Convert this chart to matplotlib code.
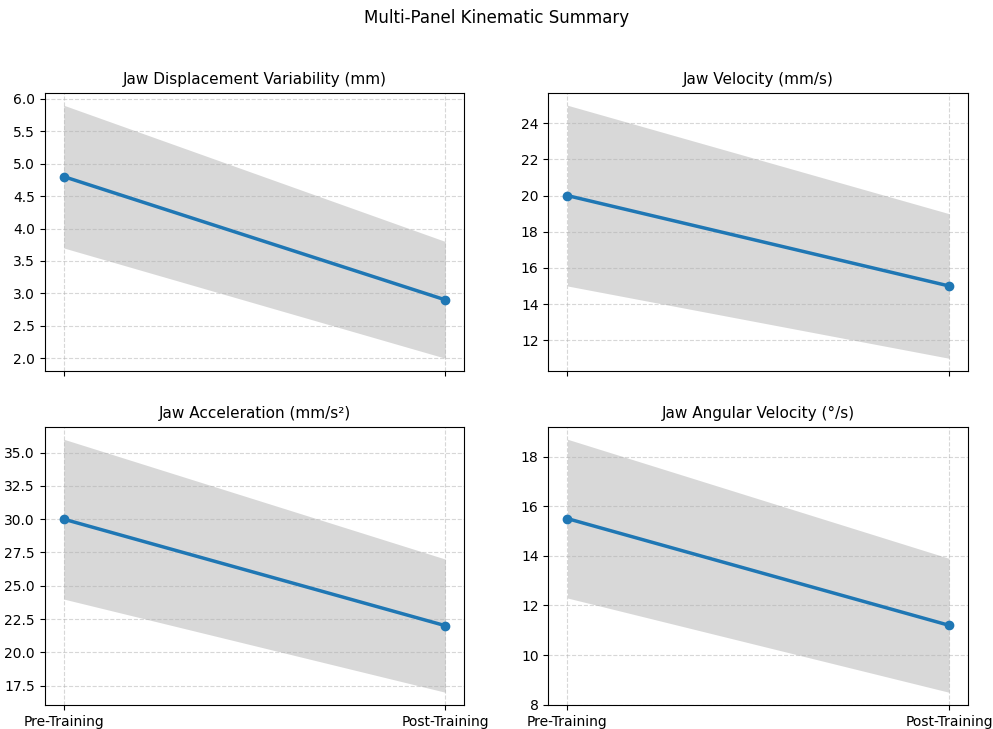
import matplotlib
matplotlib.use("Agg")
import matplotlib.pyplot as plt

phases = ["Pre-Training", "Post-Training"]

titles = [
    "Jaw Displacement Variability (mm)",
    "Jaw Velocity (mm/s)",
    "Jaw Acceleration (mm/s²)",
    "Jaw Angular Velocity (°/s)",
]

displacement_mean = [4.8, 2.9]
displacement_sd = [1.1, 0.9]
velocity_mean = [20.0, 15.0]
velocity_sd = [5.0, 4.0]
acceleration_mean = [30.0, 22.0]
acceleration_sd = [6.0, 5.0]
angular_mean = [15.5, 11.2]
angular_sd = [3.2, 2.7]

means = [displacement_mean, velocity_mean, acceleration_mean, angular_mean]
sds = [displacement_sd, velocity_sd, acceleration_sd, angular_sd]

fig, axes = plt.subplots(2, 2, figsize=(9.93, 7.29), dpi=100, sharex=True)
fig.subplots_adjust(left=0.045, right=0.975, top=0.873, bottom=0.033,
                    hspace=0.2, wspace=0.2)

x = list(range(len(phases)))
for ax, title, m, s in zip(axes.flat, titles, means, sds):
    lower = [a - b for a, b in zip(m, s)]
    upper = [a + b for a, b in zip(m, s)]
    ax.fill_between(x, lower, upper, color="gray", alpha=0.3, linewidth=0)
    ax.plot(x, m, marker="o", color="#1f77b4", linewidth=2.5)
    ax.set_title(title, fontsize=11)
    ax.grid(True, linestyle="--", alpha=0.5)
    ax.set_xticks(x)
    ax.set_xticklabels(phases)

fig.suptitle("Multi-Panel Kinematic Summary", y=0.987)
fig.savefig("out.png")
